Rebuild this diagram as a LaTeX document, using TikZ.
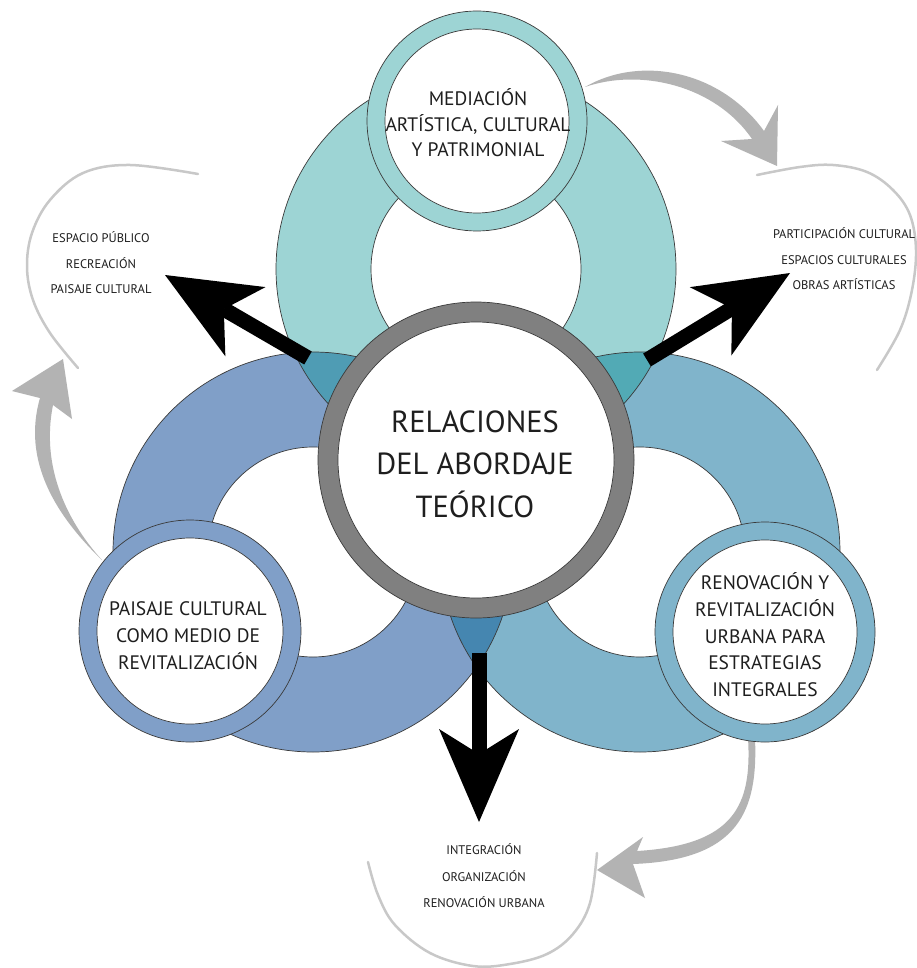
\documentclass[tikz,border=0pt]{standalone}
\usepackage{fontspec}
\setmainfont{PT Sans}
\usetikzlibrary{arrows.meta}
\definecolor{cTop}{HTML}{9DD4D4}
\definecolor{cLeft}{HTML}{809FC8}
\definecolor{cRight}{HTML}{80B4CB}
\definecolor{cTL}{HTML}{4F9CB4}
\definecolor{cTR}{HTML}{52AAB5}
\definecolor{cB}{HTML}{4586B0}
\definecolor{cRing}{HTML}{808080}
\definecolor{cArr}{HTML}{B3B3B3}
\definecolor{cArc}{HTML}{C8C8C8}
\definecolor{cEdge}{HTML}{3A3A3A}
\definecolor{cText}{HTML}{1E1E1E}
\tikzset{
  edge/.style={draw=cEdge, line width=0.7pt},
  lbl/.style={anchor=base, inner sep=0pt, text=cText},
  bigtxt/.style={lbl, font=\fontsize{30.5}{36}\selectfont},
  midtxt/.style={lbl, font=\fontsize{19.5}{24}\selectfont},
  smalltxt/.style={lbl, font=\fontsize{12.5}{15}\selectfont},
  thinarc/.style={draw=cArc, line width=2.5pt, line cap=round},
  grayarrow/.style={fill=cArr},
  blackarrow/.style={draw=black, line width=15pt, -{Stealth[length=93pt, width=80pt, inset=25pt, line width=0pt]}}
}
\begin{document}
\begin{tikzpicture}[x=1pt, y=-1pt]
\useasboundingbox (0,0) rectangle (917,968);
\fill[white] (0,0) rectangle (917,968);

% annulus centres
\coordinate (AT) at (476,269);
\coordinate (AL) at (313,552);
\coordinate (AR) at (640,552);
\coordinate (CC) at (476,460);

% annuli
\fill[cTop, even odd rule] (AT) circle[radius=200pt] (AT) circle[radius=105pt];
\fill[cLeft, even odd rule] (AL) circle[radius=200pt] (AL) circle[radius=105pt];
\fill[cRight, even odd rule] (AR) circle[radius=200pt] (AR) circle[radius=105pt];
% overlaps
\begin{scope}
  \clip (AT) circle[radius=200pt];
  \fill[cTL] (AL) circle[radius=200pt];
  \fill[cTR] (AR) circle[radius=200pt];
\end{scope}
\begin{scope}
  \clip (AL) circle[radius=200pt];
  \fill[cB] (AR) circle[radius=200pt];
\end{scope}
% outlines
\foreach \c in {AT,AL,AR}{
  \draw[edge] (\c) circle[radius=200pt];
  \draw[edge] (\c) circle[radius=105pt];
}

% thin grey arcs
\draw[thinarc] plot[smooth, tension=0.6] coordinates {(198,174) (130,165) (83,173) (50,200) (32,233) (27,267) (33,300) (50,333) (78,368)};
\draw[thinarc] plot[smooth, tension=0.6] coordinates {(757,175) (800,167) (833,165) (867,172) (893,190) (910,215) (916,250) (912,290) (900,330) (877,370)};
\draw[thinarc] plot[smooth, tension=0.6] coordinates {(368,862) (378,895) (395,925) (430,953) (473,966) (510,964) (547,954) (573,934) (590,903) (597,853)};

% grey curved arrows
\fill[grayarrow] (585,87) .. controls (640,55) and (720,70) .. (764,131)
  -- (778,105) -- (777,166) -- (721,141) -- (752,139)
  .. controls (715,85) and (640,68) .. (585,87) -- cycle;
\fill[grayarrow] (102,560) .. controls (55,515) and (22,460) .. (40,398)
  -- (12,391) -- (63,359) -- (72,419) -- (53,405)
  .. controls (40,470) and (70,525) .. (102,560) -- cycle;
\fill[grayarrow] (755,738) .. controls (758,810) and (740,860) .. (633,864)
  -- (645,898) -- (597,870) -- (643,837) -- (637,851)
  .. controls (735,845) and (752,805) .. (748,738) -- cycle;

% small circles
\filldraw[fill=cTop, edge] (477,121) circle[radius=110pt];
\filldraw[fill=white, edge] (477,121) circle[radius=92pt];
\filldraw[fill=cLeft, edge] (190,631) circle[radius=111pt];
\filldraw[fill=white, edge] (190,631) circle[radius=93pt];
\filldraw[fill=cRight, edge] (765,632) circle[radius=110pt];
\filldraw[fill=white, edge] (765,632) circle[radius=92pt];

% central circle
\filldraw[fill=cRing, edge] (CC) circle[radius=158pt];
\filldraw[fill=white, edge] (CC) circle[radius=138pt];

% texts
\node[bigtxt] (c1) at (475,432) {RELACIONES};
\node[bigtxt] (c2) at (475,474) {DEL ABORDAJE};
\node[bigtxt] (c3) at (475,517) {TEÓRICO};

\node[midtxt] (t1) at (478,106) {MEDIACIÓN};
\node[midtxt] (t2) at (478,132) {ARTÍSTICA, CULTURAL};
\node[midtxt] (t3) at (478,157) {Y PATRIMONIAL};

\node[midtxt] (l1) at (188,615) {PAISAJE CULTURAL};
\node[midtxt] (l2) at (188,642) {COMO MEDIO DE};
\node[midtxt] (l3) at (188,669) {REVITALIZACIÓN};

\node[midtxt] (r1) at (765,589) {RENOVACIÓN Y};
\node[midtxt] (r2) at (765,616) {REVITALIZACIÓN};
\node[midtxt] (r3) at (765,643) {URBANA PARA};
\node[midtxt] (r4) at (765,669) {ESTRATEGIAS};
\node[midtxt] (r5) at (765,696) {INTEGRALES};

\node[smalltxt] (a1) at (101,243) {ESPACIO PÚBLICO};
\node[smalltxt] (a2) at (101,268) {RECREACIÓN};
\node[smalltxt] (a3) at (101,293) {PAISAJE CULTURAL};

\node[smalltxt] (b1) at (844,239) {PARTICIPACIÓN CULTURAL};
\node[smalltxt] (b2) at (844,264) {ESPACIOS CULTURALES};
\node[smalltxt] (b3) at (844,289) {OBRAS ARTÍSTICAS};

\node[smalltxt] (d1) at (484,854) {INTEGRACIÓN};
\node[smalltxt] (d2) at (484,881) {ORGANIZACIÓN};
\node[smalltxt] (d3) at (484,907) {RENOVACIÓN URBANA};

% black arrows
\coordinate (s1) at (308,358);
\coordinate (e1) at (165,275);
\coordinate (s2) at (647,360);
\coordinate (e2) at (790,273);
\coordinate (s3) at (479,653);
\coordinate (e3) at (479,822);
\draw[blackarrow] (s1) -- (e1);
\draw[blackarrow] (s2) -- (e2);
\draw[blackarrow] (s3) -- (e3);
\end{tikzpicture}
\end{document}
